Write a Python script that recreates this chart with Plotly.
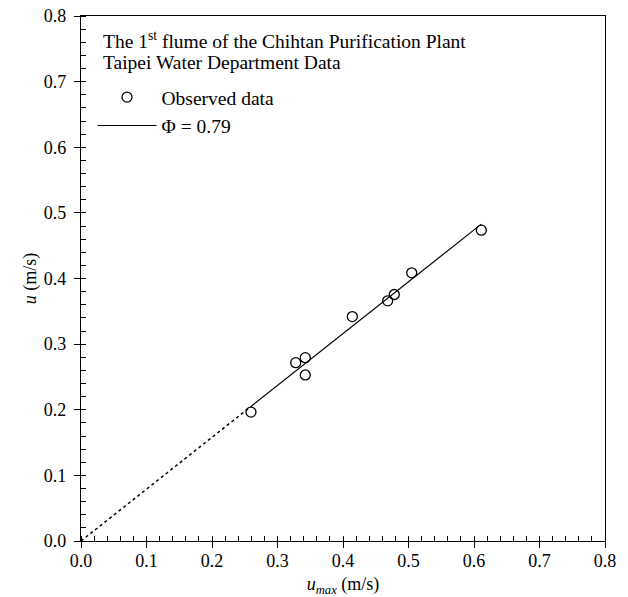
import plotly.graph_objects as go

umax = [0.2595, 0.3278, 0.3424, 0.3424, 0.4142, 0.4682, 0.4783, 0.5049, 0.6112]
u_obs = [0.1965, 0.2718, 0.2794, 0.2530, 0.3420, 0.3660, 0.3756, 0.4087, 0.4737]
phi = 0.79
fit_x = [0.2595, 0.6112]
ext_x = [0.0, 0.2595]
ticks = [0.0, 0.1, 0.2, 0.3, 0.4, 0.5, 0.6, 0.7, 0.8]
tick_text = ["%.1f" % t for t in ticks]

FONT = "Liberation Serif"

fig = go.Figure()
fig.add_trace(go.Scatter(x=umax, y=u_obs, mode="markers", name="Observed data",
                         marker=dict(symbol="circle-open", size=10, color="black",
                                     line=dict(width=1.3, color="black"))))
fig.add_trace(go.Scatter(x=fit_x, y=[phi * v for v in fit_x], mode="lines",
                         name="\u03a6 = 0.79", line=dict(color="black", width=1.2)))
fig.add_trace(go.Scatter(x=ext_x, y=[phi * v for v in ext_x], mode="lines",
                         showlegend=False, line=dict(color="black", width=1.5, dash="dot")))

axis_common = dict(range=[0, 0.8], tickvals=ticks, ticktext=tick_text,
                   showgrid=False, zeroline=False, showline=True, linecolor="black",
                   linewidth=1.2, mirror=True, ticks="outside", ticklen=6,
                   tickcolor="black", tickwidth=1, automargin=False,
                   ticklabeloverflow="allow",
                   tickfont=dict(family=FONT, size=18, color="black"),
                   minor=dict(dtick=0.02, ticks="inside", ticklen=5, tickcolor="black",
                              tickwidth=1, showgrid=False))

fig.update_layout(
    width=628, height=597,
    margin=dict(l=73, r=31, t=8, b=64),
    paper_bgcolor="white", plot_bgcolor="white",
    font=dict(family=FONT, color="black"),
    xaxis=dict(**axis_common, ticklabelstandoff=-3,
               title=dict(text="<i>u<sub>max</sub></i> (m/s)",
                          font=dict(family=FONT, size=18), standoff=7)),
    yaxis=dict(**axis_common, ticklabelstandoff=4,
               title=dict(text="<i>u</i> (m/s)",
                          font=dict(family=FONT, size=18), standoff=2)),
    legend=dict(x=0.022, y=0.882, xanchor="left", yanchor="top",
                bgcolor="rgba(0,0,0,0)", font=dict(family=FONT, size=19.5),
                itemwidth=59, tracegroupgap=0),
    showlegend=True,
)
fig.add_annotation(xref="paper", yref="paper", x=0.039, y=0.955, xanchor="left",
                   yanchor="middle", align="left", showarrow=False,
                   text="The 1<sup>st</sup> flume of the Chihtan Purification Plant",
                   font=dict(family=FONT, size=19.5, color="black"))
fig.add_annotation(xref="paper", yref="paper", x=0.039, y=0.911, xanchor="left",
                   yanchor="middle", align="left", showarrow=False,
                   text="Taipei Water Department Data",
                   font=dict(family=FONT, size=19.5, color="black"))

fig.write_html("out.html")
